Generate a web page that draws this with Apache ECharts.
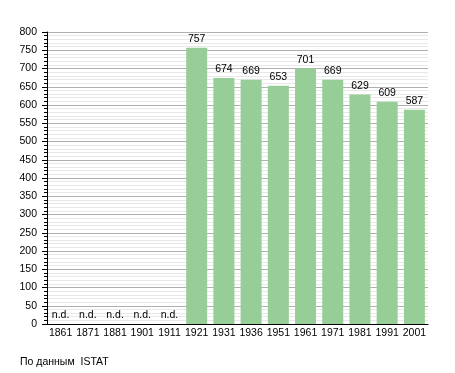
<!DOCTYPE html>
<html>
<head>
<meta charset="utf-8">
<script src="https://cdn.jsdelivr.net/npm/echarts@6/dist/echarts.min.js"></script>
<style>html,body{margin:0;padding:0;background:#fff;}#c{width:455px;height:373px;}</style>
</head>
<body>
<div id="c"></div>
<script>
const years = ['1861','1871','1881','1901','1911','1921','1931','1936','1951','1961','1971','1981','1991','2001'];
const population = [null,null,null,null,null,757,674,669,653,701,669,629,609,587];
const yTicks = { min: 0, max: 800, interval: 50 };
const sourceNote = 'По данным  ISTAT';

const chart = echarts.init(document.getElementById('c'), null, { renderer: 'canvas' });
const FONT = 'Liberation Sans, Arial, sans-serif';
chart.setOption({
  animation: false,
  backgroundColor: '#fff',
  grid: { left: 47, right: 27, top: 32, bottom: 49 },
  graphic: [{
    type: 'text', left: 20, top: 357,
    style: { text: sourceNote, font: '10.5px ' + FONT, fill: '#000' }
  }],
  xAxis: {
    type: 'category',
    data: years,
    axisLine: { show: true, lineStyle: { color: '#000', width: 1 } },
    axisTick: { show: false },
    axisLabel: { color: '#000', fontSize: 10.5, fontFamily: FONT, margin: 4, interval: 0 },
    splitLine: { show: false }
  },
  yAxis: {
    type: 'value',
    min: yTicks.min, max: yTicks.max, interval: yTicks.interval,
    axisLine: { show: true, lineStyle: { color: '#000', width: 1 } },
    axisTick: { show: true, inside: false, length: 5, lineStyle: { color: '#000' } },
    minorTick: { show: true, splitNumber: 5, length: 3, lineStyle: { color: '#000' } },
    axisLabel: { color: '#000', fontSize: 10.5, fontFamily: FONT, margin: 10 },
    splitLine: { show: true, lineStyle: { color: '#b0b0b0', width: 1 } },
    minorSplitLine: { show: true, lineStyle: { color: '#e8e8e8', width: 1 } }
  },
  series: [{
    type: 'bar',
    data: population.map(v => ({ value: v === null ? 0 : v })),
    barWidth: 21,
    itemStyle: { color: '#97cd97' },
    label: {
      show: true, position: 'top', distance: 3,
      color: '#000', fontSize: 10.5, fontFamily: FONT,
      formatter: p => (population[p.dataIndex] === null ? 'n.d.' : String(p.value))
    }
  }]
});
</script>
</body>
</html>
